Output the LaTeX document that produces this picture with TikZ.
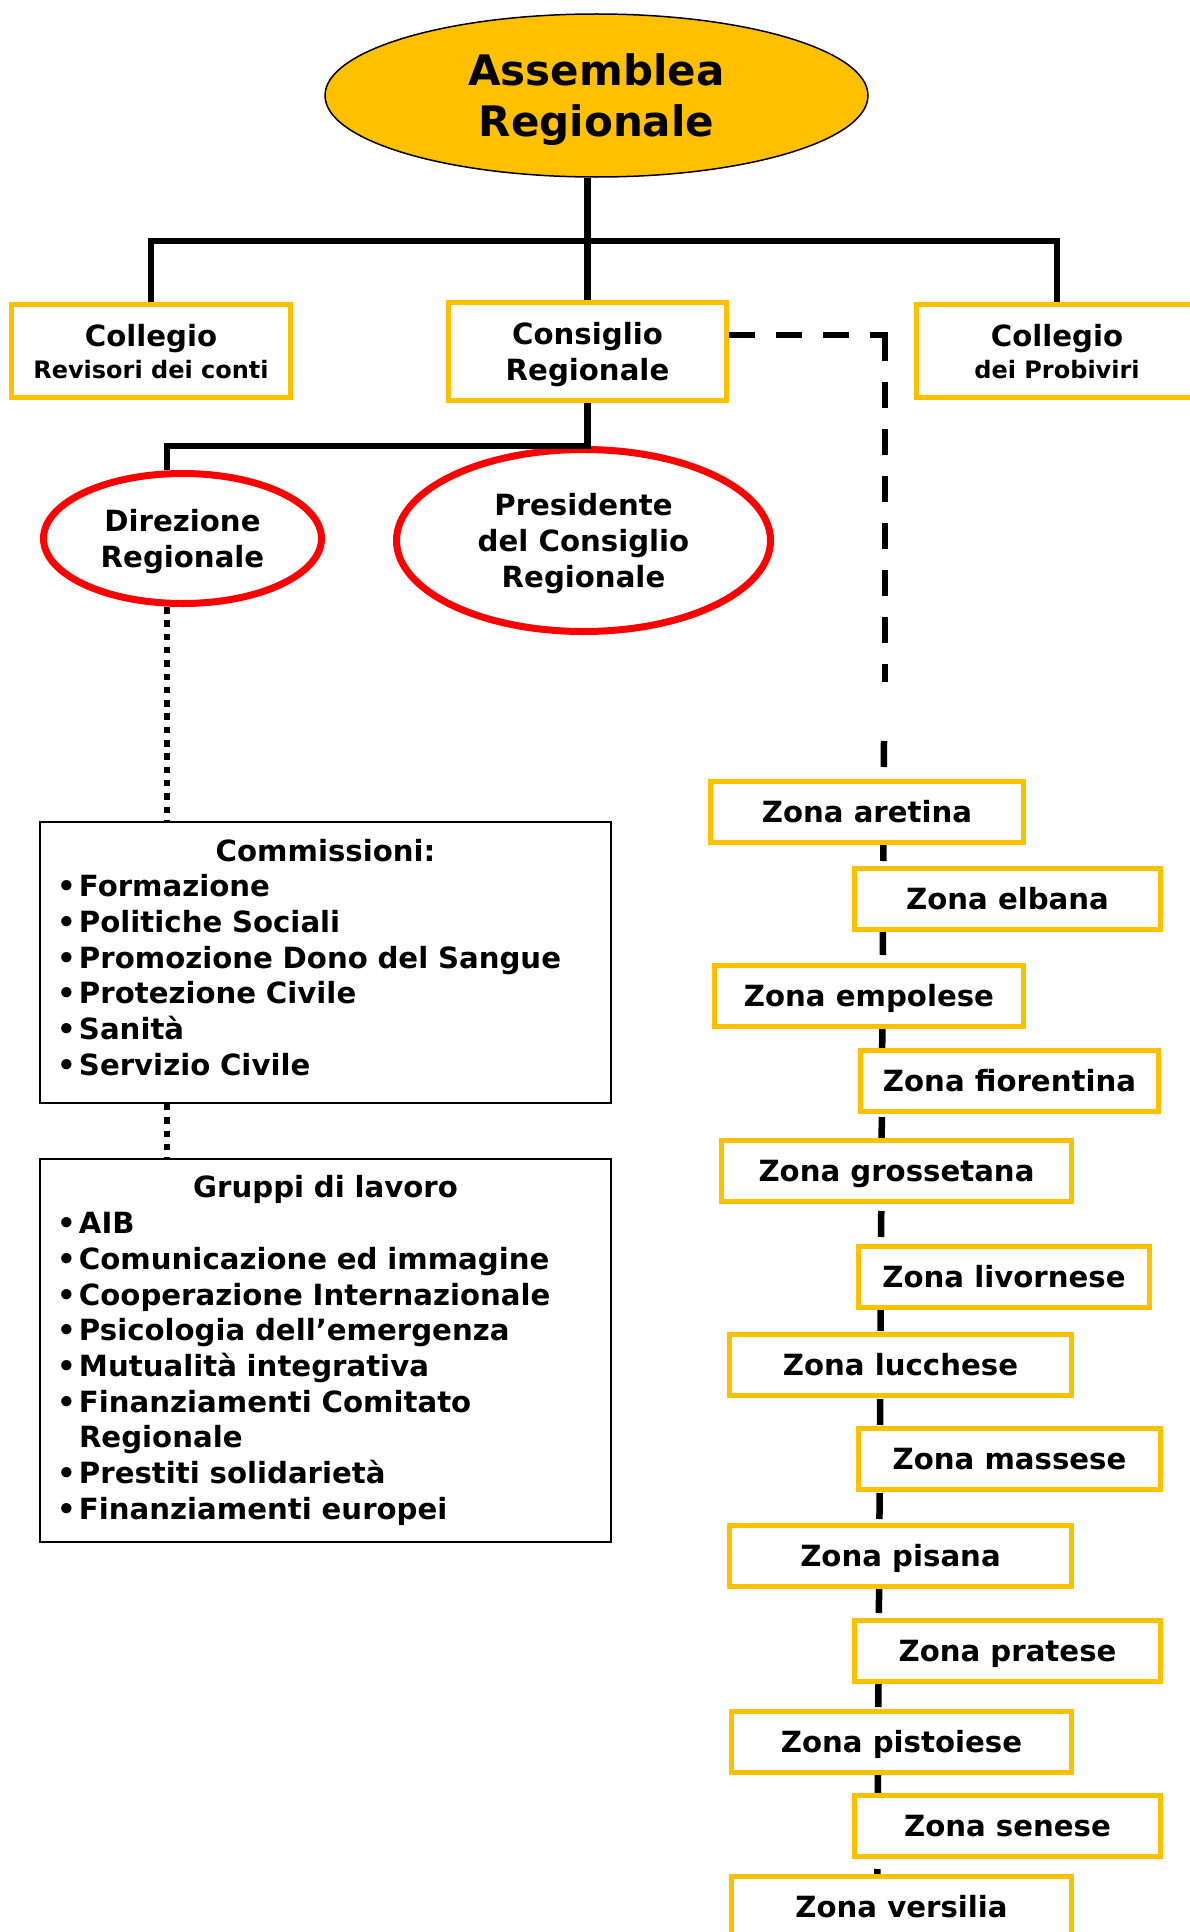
\documentclass[tikz,border=0pt]{standalone}
\usepackage{fontspec}
\setmainfont{DejaVu Sans}
\usetikzlibrary{shapes.geometric}

\definecolor{giallo}{HTML}{FFC000}
\definecolor{rosso}{HTML}{FF0000}

% one line of a list, with its bullet
\newcommand{\voce}{\par\noindent\hangindent=18pt\hangafter=1\makebox[18pt][l]{\hspace{-4pt}\textbullet}}

\begin{document}
\begin{tikzpicture}[x=1pt,y=-1pt,line join=miter,
	top node/.style={ellipse,draw=black,line width=1.5pt,fill=giallo,inner sep=0pt,align=center,
		font=\bfseries\fontsize{42}{51}\selectfont,text depth=0pt},
	yellow node/.style={rectangle,draw=giallo,line width=5pt,fill=white,inner sep=0pt,align=center,
		font=\bfseries\fontsize{29.2}{36}\selectfont,text depth=0pt},
	red node/.style={ellipse,draw=rosso,line width=7pt,fill=white,inner sep=0pt,align=center,
		font=\bfseries\fontsize{29.2}{36}\selectfont,text depth=0pt},
	list node/.style={rectangle,draw=black,line width=1.8pt,inner xsep=21pt,inner ysep=0pt,
		text width=529pt,font=\bfseries\fontsize{29.2}{35.7}\selectfont},
	zone node/.style={yellow node,minimum height=61pt,text height=21pt},
	link/.style={line width=6.5pt},
	dot link/.style={line width=6.5pt,dash pattern=on 6.5pt off 6.8pt},
	zone link/.style={line width=6.5pt,dash pattern=on 26pt off 21pt}
]
	\useasboundingbox (0,0) rectangle (1189,1932);

	\def \small {\fontsize{24}{28}\selectfont}

	\node[top node,minimum width=543pt,minimum height=163pt] (asm) at (596.5,95.5) {Assemblea\\Regionale};

	\node[yellow node,minimum width=279pt,minimum height=93pt] (crev) at (151,351) {Collegio\\[-4pt]{\small Revisori dei conti}};
	\node[yellow node,minimum width=278pt,minimum height=98pt] (cons) at (587.5,351.5) {Consiglio\\Regionale};
	\node[yellow node,minimum width=281pt,minimum height=93pt] (cprob) at (1057,351) {Collegio\\[-4pt]{\small dei Probiviri}};

	\coordinate (hub) at (587.5,241);
	\draw[link] (asm.south -| cons.north) -- (cons.north);
	\draw[link] (crev.north) |- (hub) -| (cprob.north);

	\node[red node,minimum width=278pt,minimum height=130pt] (dir) at (182.5,538.5) {Direzione\\Regionale};
	\node[red node,minimum width=374pt,minimum height=182pt] (pres) at (583.5,540.5) {Presidente\\del Consiglio\\Regionale};

	\draw[link] (cons.south) -- (cons.south |- pres.north) -| ([xshift=-15.5pt]dir.north);

	\node[list node,minimum height=281pt] (comm) at (325.5,962.5) {\centerline{Commissioni:}%
		\voce Formazione
		\voce Politiche Sociali
		\voce Promozione Dono del Sangue
		\voce Protezione Civile
		\voce Sanità
		\voce Servizio Civile\strut};
	\node[list node,minimum height=383pt] (grp) at (325.5,1350.5) {\centerline{Gruppi di lavoro}%
		\voce AIB
		\voce Comunicazione ed immagine
		\voce Cooperazione Internazionale
		\voce Psicologia dell’emergenza
		\voce Mutualità integrativa
		\voce Finanziamenti Comitato\newline Regionale
		\voce Prestiti solidarietà
		\voce Finanziamenti europei};

	\coordinate (dx) at ([xshift=-15.5pt]dir.south);
	\draw[dot link] (dx) -- (dx |- comm.north);
	\draw[dot link] (comm.south -| dx) -- (grp.north -| dx);

	% dashed link to the zones
	\coordinate (dk) at (885,335);
	\coordinate (dgap) at (885,682);
	\coordinate (dres) at (884,741);
	\coordinate (dend) at (877,1940);
	\draw[zone link] (cons.east |- dk) -- ([xshift=3pt]dk);
	\draw[zone link] (dk) -- (dgap);
	\draw[zone link] (dres) -- (dend);

	\foreach \nm/\cx/\cy/\w/\txt in {
		za/867/812/313/aretina,
		zb/1007.5/899/306/elbana,
		zc/869/996/309/empolese,
		zd/1009.5/1081/298/fiorentina,
		ze/896.5/1171/350/grossetana,
		zf/1004/1277/291/livornese,
		zg/900.5/1365/342/lucchese,
		zh/1009.5/1459/302/massese,
		zi/900.5/1556/342/pisana,
		zj/1007.5/1650.5/306/pratese,
		zk/901.5/1742/340/pistoiese,
		zl/1007.5/1826/306/senese,
		zm/901.5/1907/340/versilia} {
		\node[zone node,minimum width=\w] (\nm) at (\cx,\cy) {Zona \txt};
	}
\end{tikzpicture}
\end{document}
